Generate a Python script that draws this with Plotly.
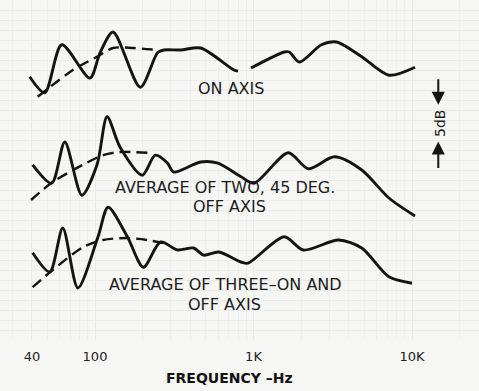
import plotly.graph_objects as go

# Frequency (Hz) and relative level (dB)
on_axis_f = [38.7, 48.2, 61.7, 92.9, 107.6, 130, 193, 248, 271, 347, 464, 752, 798, None,
             965, 1563, 1680, 1945, 2683, 3342, 4817, 7150, 10450]
on_axis_db = [32.9, 30.9, 36.9, 32.75, 35.9, 38.5, 31.6, 35.9, 36.25, 36.25, 36.5, 33.75, 33.6, None,
              34.0, 36.0, 36.0, 34.75, 36.9, 37.25, 35.4, 33.1, 34.1]
on_axis_trend_f = [43.5, 72.5, 103, 130, 174, 248]
on_axis_trend_db = [30.4, 33.75, 35.4, 36.5, 36.5, 36.25]

two_f = [40.4, 53.3, 64.5, 82.7, 103, 119.2, 144, 199, 240, 287, 313, 464, 596, 834, 1007,
         1656, 2217, 3245, 4817, 7150, 10450]
two_db = [21.9, 19.6, 24.75, 18.1, 21.9, 27.9, 24.1, 20.6, 23.1, 22.1, 21.0, 22.25, 22.1, 20.4, 19.6,
          23.4, 21.4, 22.9, 21.25, 17.75, 15.5]
two_trend_f = [39.5, 54.1, 83.9, 112.4, 144, 214]
two_trend_db = [17.5, 19.75, 21.9, 23.1, 23.5, 23.4]

three_f = [40.4, 51.8, 62.6, 78.0, 104.5, 121, 160, 202, 259, 332, 419, 485, 604, 834, 923,
           1563, 2061, 3441, 4817, 7150, 10000]
three_db = [10.9, 8.5, 14.0, 6.5, 12.9, 16.6, 12.9, 9.1, 12.25, 11.25, 11.5, 10.6, 11.0, 9.75, 9.6,
            12.9, 11.25, 12.5, 11.5, 7.9, 7.1]
three_trend_f = [40.4, 54.1, 83.9, 112.4, 160, 214, 271]
three_trend_db = [6.6, 8.75, 11.6, 12.5, 12.75, 12.5, 12.1]

tick_vals = [40, 100, 1000, 10000]
tick_text = ["40", "100", "1K", "10K"]

ink = "#141414"
fig = go.Figure()
for f, db in [(on_axis_f, on_axis_db), (two_f, two_db), (three_f, three_db)]:
    fig.add_trace(go.Scatter(x=f, y=db, mode="lines", connectgaps=False,
                             line=dict(color=ink, width=2.9, shape="spline", smoothing=0.8),
                             hoverinfo="skip", showlegend=False))
for f, db in [(on_axis_trend_f, on_axis_trend_db), (two_trend_f, two_trend_db),
              (three_trend_f, three_trend_db)]:
    fig.add_trace(go.Scatter(x=f, y=db, mode="lines",
                             line=dict(color=ink, width=2.4, dash="11px,6px", shape="spline", smoothing=0.8),
                             hoverinfo="skip", showlegend=False))

font = "'DejaVu Sans', sans-serif"
labels = [
    ("ON AXIS", 0.482, 31.5),
    ("AVERAGE OF TWO, 45 DEG.", 0.470, 19.1),
    ("OFF AXIS", 0.479, 16.75),
    ("AVERAGE OF THREE\u2013ON AND", 0.471, 6.9),
    ("OFF AXIS", 0.469, 4.4),
]
for txt, x, y in labels:
    fig.add_annotation(text=txt, x=x, y=y, xref="paper", yref="y", showarrow=False,
                       xanchor="center", yanchor="middle",
                       font=dict(family=font, size=16, color="#1c1c1c"))

# 5 dB scale marker
fig.add_annotation(text="5dB", x=0.918, y=27.1, xref="paper", yref="y", showarrow=False,
                   xanchor="center", yanchor="middle",
                   textangle=-90, font=dict(family=font, size=14, color="#1c1c1c"))
fig.add_annotation(text="", x=0.915, y=29.4, xref="paper", yref="y", ax=0, ay=-27,
                   showarrow=True, arrowhead=2, arrowsize=1.3, arrowwidth=2, arrowcolor=ink)
fig.add_annotation(text="", x=0.915, y=24.8, xref="paper", yref="y", ax=0, ay=28,
                   showarrow=True, arrowhead=2, arrowsize=1.3, arrowwidth=2, arrowcolor=ink)

# axis title
fig.add_annotation(text="<b>FREQUENCY \u2013Hz</b>", x=0.479, y=-0.112, xref="paper", yref="paper",
                   showarrow=False, xanchor="center", yanchor="middle",
                   font=dict(family=font, size=14, color="#111"))

fig.update_layout(
    width=479, height=391,
    margin=dict(l=0, r=0, t=0, b=51),
    paper_bgcolor="#f6f6f4", plot_bgcolor="#f6f6f4",
    xaxis=dict(type="log", range=[1.4006, 4.4227], tickvals=tick_vals, ticktext=tick_text,
               showgrid=True, gridcolor="#e9e9e7", gridwidth=1,
               minor=dict(showgrid=True, gridcolor="#eeeeec", dtick="D1"),
               zeroline=False, showline=False, ticks="outside", ticklen=4, tickcolor="rgba(0,0,0,0)",
               tickfont=dict(family=font, size=13, color="#222")),
    yaxis=dict(range=[0, 42.5], showticklabels=False, showgrid=True, gridcolor="#ebebe9",
               dtick=1.25, zeroline=False, showline=False, fixedrange=True),
)
fig.write_html("out.html", config={"displayModeBar": False},
               post_script="document.body.style.margin='0';document.body.style.overflow='hidden';")
